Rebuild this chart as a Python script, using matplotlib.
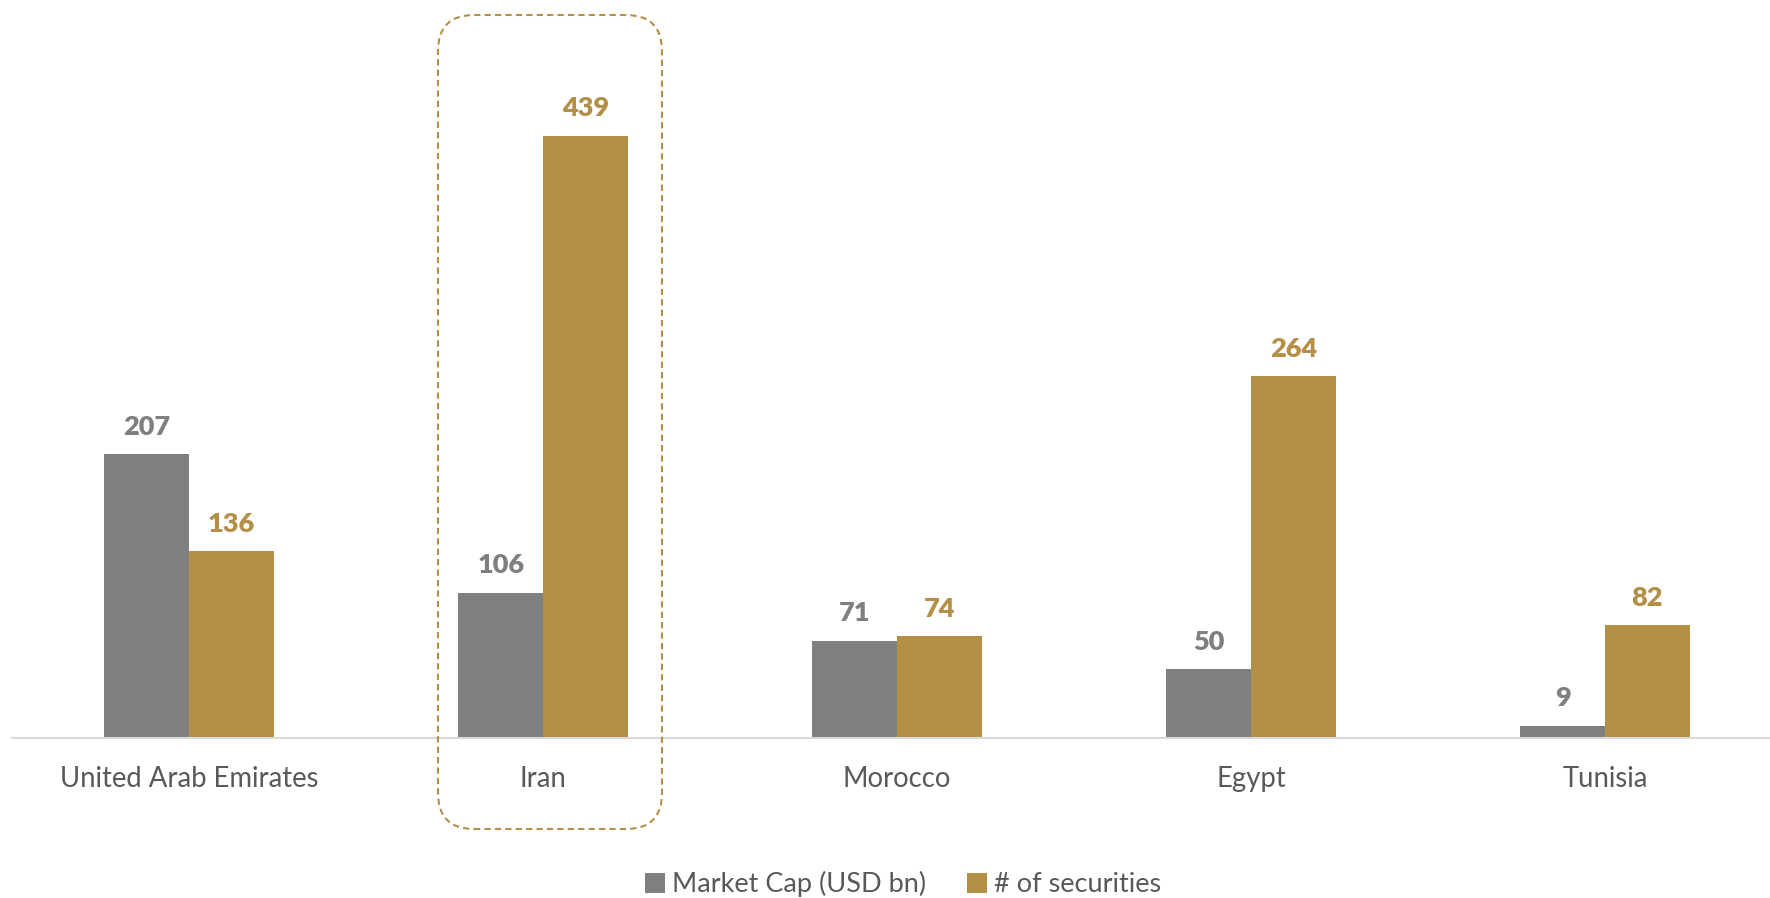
import numpy as np
import matplotlib
matplotlib.use("Agg")
import matplotlib.pyplot as plt
from matplotlib.patches import FancyBboxPatch

# data
countries = ["United Arab Emirates", "Iran", "Morocco", "Egypt", "Tunisia"]
market_cap = [207, 106, 71, 50, 9]
securities = [136, 439, 74, 264, 82]
series_names = ["Market Cap (USD bn)", "# of securities"]

GREY = "#7f7f7f"
GOLD = "#b38f48"
TEXT = "#595959"

plt.rcParams["font.family"] = ["Lato", "DejaVu Sans"]

W, H = 1770, 898
fig = plt.figure(figsize=(W / 100, H / 100), dpi=100)

# axes placed in pixels: left 12, baseline at y=738 from top
ax = fig.add_axes([12 / W, (H - 738) / H, (W - 12) / W, 738 / H])

x = np.arange(len(countries))
bw = 0.239
b1 = ax.bar(x - bw / 2, market_cap, bw, color=GREY, label=series_names[0])
b2 = ax.bar(x + bw / 2, securities, bw, color=GOLD, label=series_names[1])

ax.set_xlim(-0.5, 4.5 - 12 / 354)
ax.set_ylim(0, 738 / 1.372)

for bars, col in ((b1, GREY), (b2, GOLD)):
    for r in bars:
        ax.annotate(f"{r.get_height():.0f}",
                    (r.get_x() + r.get_width() / 2, r.get_height()),
                    xytext=(0, 11), textcoords="offset points",
                    ha="center", va="bottom", fontsize=19.5,
                    fontweight="heavy", color=col)

for s in ("top", "right", "left"):
    ax.spines[s].set_visible(False)
ax.spines["bottom"].set_color("#d9d9d9")
ax.spines["bottom"].set_linewidth(1.5)
ax.set_yticks([])
ax.set_xticks(x)
ax.set_xticklabels(countries, fontsize=19.8, color=TEXT)
ax.tick_params(axis="x", length=0, pad=20.5)

leg = fig.legend(loc="center", bbox_to_anchor=(0.51, (H - 884) / H), ncol=2,
                 frameon=False, fontsize=19.5, handlelength=0.75, handleheight=0.75,
                 columnspacing=1.5, handletextpad=0.25)
for t in leg.get_texts():
    t.set_color(TEXT)

# dashed rounded box highlighting Iran (pixel coords -> inches)
box = FancyBboxPatch((438 / 100, (H - 829) / 100), (662 - 438) / 100, (829 - 15) / 100,
                     boxstyle="round,pad=0,rounding_size=0.36",
                     transform=fig.dpi_scale_trans, fill=False,
                     edgecolor=GOLD, linestyle=(0, (3, 2)), linewidth=1.5)
fig.patches.append(box)

fig.savefig("out.png", dpi=100)
